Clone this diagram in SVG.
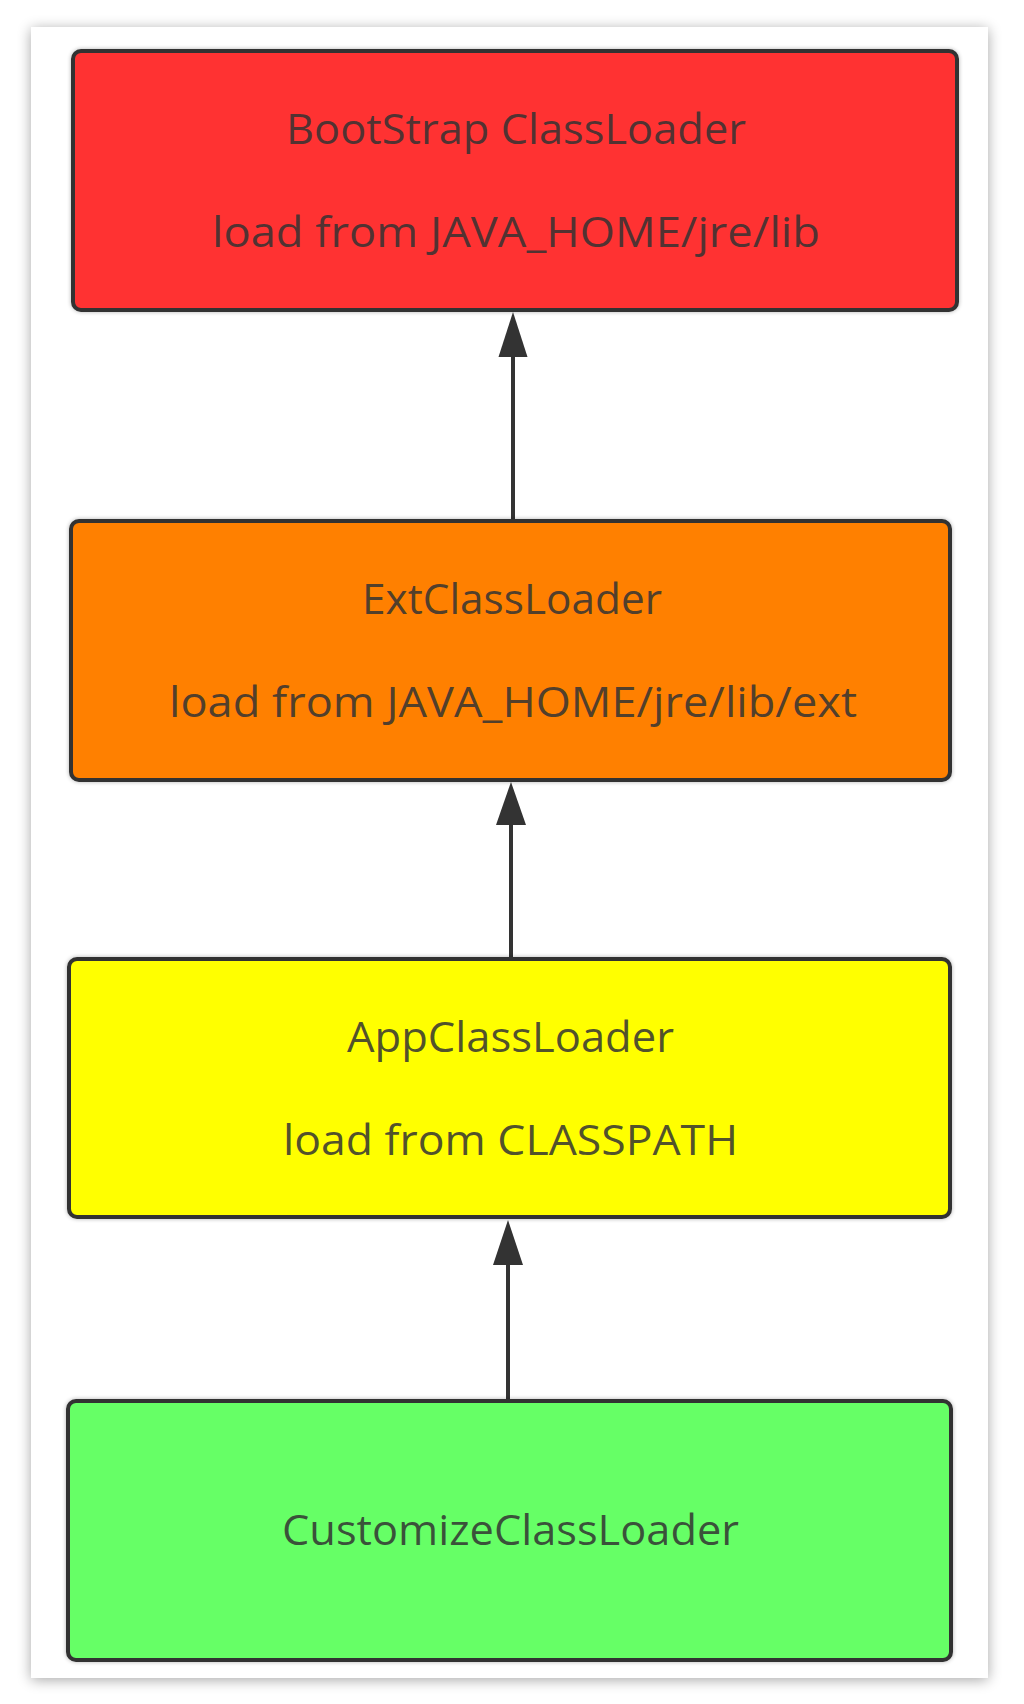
<svg xmlns="http://www.w3.org/2000/svg" width="1024" height="1704" viewBox="0 0 1024 1704">
  <defs>
    <filter id="cardShadow" x="-10%" y="-10%" width="120%" height="120%">
      <feGaussianBlur in="SourceAlpha" stdDeviation="7"/>
      <feOffset dx="0" dy="2" result="b"/>
      <feComponentTransfer><feFuncA type="linear" slope="0.35"/></feComponentTransfer>
      <feMerge><feMergeNode/><feMergeNode in="SourceGraphic"/></feMerge>
    </filter>
    <filter id="boxShadow" x="-5%" y="-5%" width="110%" height="110%">
      <feGaussianBlur in="SourceAlpha" stdDeviation="2"/>
      <feComponentTransfer><feFuncA type="linear" slope="0.3"/></feComponentTransfer>
      <feMerge><feMergeNode/><feMergeNode in="SourceGraphic"/></feMerge>
    </filter>
  </defs>
  <style>
    .box { stroke: #333333; stroke-width: 4; filter: url(#boxShadow); }
    .lbl { font-family: "Open Sans", "Noto Sans", "Liberation Sans", sans-serif; font-size: 42px; fill: #333333; fill-opacity: 0.85; text-anchor: middle; }
    .edge { stroke: #333333; stroke-width: 4; fill: none; }
    .head { fill: #333333; }
  </style>
  <rect x="0" y="0" width="1024" height="1704" fill="#ffffff"/>
  <rect id="card" x="31" y="27" width="957" height="1651" fill="#ffffff" filter="url(#cardShadow)"/>

  <g id="connectors">
    <line class="edge" x1="513" y1="519" x2="513" y2="350"/>
    <polygon class="head" points="513,312 527.5,357 498.5,357"/>
    <line class="edge" x1="511" y1="957" x2="511" y2="818"/>
    <polygon class="head" points="511,782 526,825 496,825"/>
    <line class="edge" x1="508" y1="1399" x2="508" y2="1258"/>
    <polygon class="head" points="508,1220 523,1265 493,1265"/>
  </g>

  <g id="bootstrap">
    <rect class="box" x="73" y="51" width="884" height="259" rx="8" fill="#ff3333"/>
    <text class="lbl" x="516" y="144" textLength="460" lengthAdjust="spacingAndGlyphs">BootStrap ClassLoader</text>
    <text class="lbl" x="516" y="247" textLength="608" lengthAdjust="spacingAndGlyphs">load from JAVA_HOME/jre/lib</text>
  </g>

  <g id="ext">
    <rect class="box" x="71" y="521" width="879" height="259" rx="8" fill="#ff8000"/>
    <text class="lbl" x="512" y="614" textLength="300" lengthAdjust="spacingAndGlyphs">ExtClassLoader</text>
    <text class="lbl" x="513" y="717" textLength="688" lengthAdjust="spacingAndGlyphs">load from JAVA_HOME/jre/lib/ext</text>
  </g>

  <g id="app">
    <rect class="box" x="69" y="959" width="881" height="258" rx="8" fill="#ffff00"/>
    <text class="lbl" x="510.5" y="1052" textLength="327" lengthAdjust="spacingAndGlyphs">AppClassLoader</text>
    <text class="lbl" x="510.5" y="1155" textLength="455" lengthAdjust="spacingAndGlyphs">load from CLASSPATH</text>
  </g>

  <g id="custom">
    <rect class="box" x="68" y="1401" width="883" height="259" rx="8" fill="#66ff66"/>
    <text class="lbl" x="510.5" y="1545" textLength="457" lengthAdjust="spacingAndGlyphs">CustomizeClassLoader</text>
  </g>
</svg>
